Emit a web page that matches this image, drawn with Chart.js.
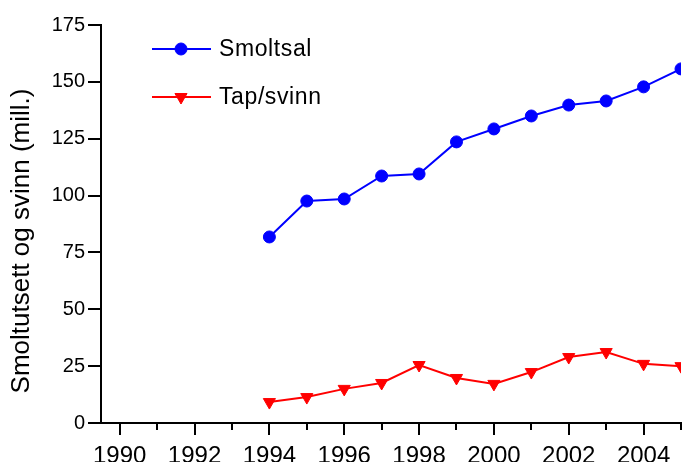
<!DOCTYPE html>
<html>
<head>
<meta charset="utf-8">
<script src="https://cdn.jsdelivr.net/npm/chart.js@4"></script>
<style>
  body { margin: 0; background: #fff; }
  #wrap { width: 689px; height: 462px; }
</style>
</head>
<body>
<div id="wrap"><canvas id="myChart" width="689" height="462"></canvas></div>
<script>
const years = [1994, 1995, 1996, 1997, 1998, 1999, 2000, 2001, 2002, 2003, 2004, 2005];
const smoltsal = [81.8, 97.6, 98.5, 108.6, 109.5, 123.6, 129.3, 135, 139.8, 141.6, 147.8, 155.7];
const tapSvinn = [9.2, 11.4, 15, 17.6, 25.5, 19.8, 17.2, 22.4, 29, 31.2, 26, 25];
const majorYears = [1990, 1992, 1994, 1996, 1998, 2000, 2002, 2004];
const minorYears = [1991, 1993, 1995, 1997, 1999, 2001, 2003, 2005];
const yTicks = [0, 25, 50, 75, 100, 125, 150, 175];
const yTitle = 'Smoltutsett og svinn (mill.)';

const FONT = "'Liberation Sans', Arial, sans-serif";

// y title, minor x ticks and the legend inside the plot
const extras = {
  id: 'extras',
  afterDraw(chart) {
    const ctx = chart.ctx;
    const xs = chart.scales.x;
    const bottom = chart.chartArea.bottom;
    ctx.save();

    // minor ticks (shorter) on the x axis
    ctx.strokeStyle = '#000';
    ctx.lineWidth = 2;
    minorYears.forEach(function (yr) {
      const px = Math.round(xs.getPixelForValue(yr));
      ctx.beginPath();
      ctx.moveTo(px, bottom);
      ctx.lineTo(px, bottom + 7);
      ctx.stroke();
    });

    // y axis title
    ctx.save();
    ctx.translate(22, 241);
    ctx.rotate(-Math.PI / 2);
    ctx.fillStyle = '#000';
    ctx.font = '26px ' + FONT;
    ctx.textAlign = 'center';
    ctx.textBaseline = 'middle';
    ctx.fillText(yTitle, 0, 0);
    ctx.restore();

    // legend
    const rowsY = [49, 97];
    chart.data.datasets.forEach(function (ds, i) {
      const y = rowsY[i];
      ctx.strokeStyle = ds.borderColor;
      ctx.lineWidth = 2;
      ctx.beginPath();
      ctx.moveTo(152, y);
      ctx.lineTo(211, y);
      ctx.stroke();
      ctx.fillStyle = ds.pointBackgroundColor;
      ctx.strokeStyle = ds.pointBorderColor;
      ctx.lineWidth = 1;
      Chart.helpers.drawPoint(ctx, {
        pointStyle: ds.pointStyle,
        radius: ds.pointRadius,
        rotation: ds.pointRotation || 0,
        borderWidth: 1
      }, 181, y);
      ctx.fillStyle = '#000';
      ctx.font = '23px ' + FONT;
      ctx.letterSpacing = '0.6px';
      ctx.textAlign = 'left';
      ctx.textBaseline = 'middle';
      ctx.fillText(ds.label, 219, y + 1);
    });
    ctx.restore();
  }
};

const config = {
  type: 'line',
  data: {
    datasets: [{
      label: 'Smoltsal',
      data: years.map((y, i) => ({ x: y, y: smoltsal[i] })),
      borderColor: 'rgb(0, 0, 255)',
      backgroundColor: 'rgb(0, 0, 255)',
      pointBackgroundColor: 'rgb(0, 0, 255)',
      pointBorderColor: 'rgb(0, 0, 255)',
      pointBorderWidth: 1,
      pointStyle: 'circle',
      pointRadius: 6,
      borderWidth: 2,
      tension: 0,
      fill: false
    }, {
      label: 'Tap/svinn',
      data: years.map((y, i) => ({ x: y, y: tapSvinn[i] })),
      borderColor: 'rgb(255, 0, 0)',
      backgroundColor: 'rgb(255, 0, 0)',
      pointBackgroundColor: 'rgb(255, 0, 0)',
      pointBorderColor: 'rgb(255, 0, 0)',
      pointBorderWidth: 1,
      pointStyle: 'triangle',
      pointRotation: 180,
      pointRadius: 7,
      borderWidth: 2,
      tension: 0,
      fill: false
    }]
  },
  options: {
    responsive: false,
    animation: false,
    events: [],
    layout: { padding: { left: 0, top: 25, right: 6, bottom: 0 } },
    plugins: {
      legend: { display: false },
      tooltip: { enabled: false }
    },
    scales: {
      x: {
        type: 'linear',
        min: 1989.5,
        max: 2005,
        afterBuildTicks: function (scale) {
          scale.ticks = majorYears.map(v => ({ value: v }));
        },
        afterFit: function (scale) { scale.height = 39; },
        border: { display: true, color: '#000', width: 2 },
        grid: { drawOnChartArea: false, drawTicks: true, tickLength: 12, color: '#000', lineWidth: 2 },
        ticks: {
          autoSkip: false,
          maxRotation: 0,
          color: '#000',
          padding: 7,
          font: { family: FONT, size: 24 },
          callback: function (v) { return String(v); }
        }
      },
      y: {
        min: 0,
        max: 175,
        afterBuildTicks: function (scale) {
          scale.ticks = yTicks.map(v => ({ value: v }));
        },
        afterFit: function (scale) { scale.width = 101; },
        border: { display: true, color: '#000', width: 2 },
        grid: { drawOnChartArea: false, drawTicks: true, tickLength: 13, color: '#000', lineWidth: 2 },
        ticks: {
          color: '#000',
          padding: 3,
          font: { family: FONT, size: 20 }
        }
      }
    }
  },
  plugins: [extras]
};

var ctx = document.getElementById('myChart').getContext('2d');
grafica = new Chart(ctx, config);
</script>
</body>
</html>
